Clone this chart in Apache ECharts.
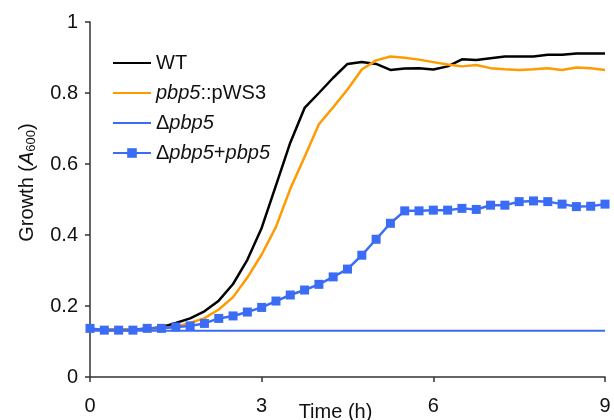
<!DOCTYPE html>
<html>
<head>
<meta charset="utf-8">
<script src="https://cdn.jsdelivr.net/npm/echarts@6/dist/echarts.min.js"></script>
<style>html,body{margin:0;padding:0;background:#fff}#c{width:614px;height:420px}</style>
</head>
<body>
<div id="c"></div>
<script>
const timeH = [0,0.25,0.5,0.75,1,1.25,1.5,1.75,2,2.25,2.5,2.75,3,3.25,3.5,3.75,4,4.25,4.5,4.75,5,5.25,5.5,5.75,6,6.25,6.5,6.75,7,7.25,7.5,7.75,8,8.25,8.5,8.75,9];
const wt = [0.135,0.133,0.133,0.134,0.136,0.140,0.152,0.165,0.185,0.215,0.262,0.330,0.420,0.540,0.660,0.758,0.800,0.843,0.882,0.887,0.882,0.865,0.869,0.870,0.866,0.875,0.895,0.893,0.898,0.903,0.903,0.903,0.908,0.908,0.911,0.911,0.911];
const pws3 = [0.135,0.133,0.133,0.133,0.133,0.137,0.142,0.152,0.166,0.190,0.225,0.280,0.345,0.423,0.530,0.620,0.712,0.760,0.810,0.866,0.892,0.903,0.899,0.894,0.887,0.880,0.875,0.879,0.870,0.867,0.865,0.867,0.870,0.865,0.872,0.870,0.865];
const dpbp5 = [0.130,0.130,0.130,0.130,0.130,0.130,0.130,0.130,0.130,0.130,0.130,0.130,0.130,0.130,0.130,0.130,0.130,0.130,0.130,0.130,0.130,0.130,0.130,0.130,0.130,0.130,0.130,0.130,0.130,0.130,0.130,0.130,0.130,0.130,0.130,0.130,0.130];
const comp = [0.137,0.132,0.132,0.132,0.137,0.137,0.141,0.144,0.151,0.165,0.172,0.183,0.196,0.214,0.231,0.245,0.261,0.282,0.304,0.343,0.388,0.433,0.468,0.468,0.470,0.470,0.475,0.472,0.484,0.484,0.494,0.496,0.494,0.487,0.480,0.481,0.487];
const seriesNames = ['WT','pbp5::pWS3','Δpbp5','Δpbp5+pbp5'];
const legendLabels = {
  'WT': 'WT',
  'pbp5::pWS3': '{i|pbp5}::pWS3',
  'Δpbp5': 'Δ{i|pbp5}',
  'Δpbp5+pbp5': 'Δ{i|pbp5}+{i|pbp5}'
};
const pair = arr => timeH.map((t,i)=>[t,arr[i]]);
const FONT = 'Liberation Sans, Arial, sans-serif';
const BLUE = '#3a6cf5';
const chart = echarts.init(document.getElementById('c'), null, {renderer:'canvas'});
chart.setOption({
  animation:false,
  backgroundColor:'#fff',
  grid:{left:90,right:9,top:22,bottom:43,containLabel:false,outerBoundsMode:'none'},
  legend:{
    orient:'vertical', left:107, top:48, itemWidth:38, itemHeight:12, itemGap:10,
    data:[
      {name:'WT', itemStyle:{opacity:0}},
      {name:'pbp5::pWS3', itemStyle:{opacity:0}},
      {name:'Δpbp5', itemStyle:{opacity:0}},
      {name:'Δpbp5+pbp5'}
    ],
    formatter: n => legendLabels[n],
    textStyle:{fontFamily:FONT,fontSize:20,color:'#111',
      rich:{i:{fontFamily:FONT,fontSize:20,fontStyle:'italic',color:'#111'}}}
  },
  xAxis:{
    type:'value', min:0, max:9, interval:3,
    name:'Time (h)', nameLocation:'middle', nameGap:25, nameMoveOverlap:false,
    nameTextStyle:{fontFamily:FONT,fontSize:20,color:'#111',padding:[0,24,0,0]},
    axisLine:{lineStyle:{color:'#333',width:1.5}},
    axisTick:{show:true,length:5,lineStyle:{color:'#333',width:1.5}},
    axisLabel:{fontFamily:FONT,fontSize:20,color:'#111',margin:19},
    splitLine:{show:false}
  },
  yAxis:{
    type:'value', min:0, max:1, interval:0.2,
    name:'{n|Growth (}{a|A}{s|600}{n|)}', nameLocation:'middle', nameGap:52, nameMoveOverlap:false,
    nameTextStyle:{fontFamily:FONT,fontSize:20,color:'#111',padding:[0,0,0,34],
      rich:{n:{fontFamily:FONT,fontSize:20,color:'#111'},
            a:{fontFamily:FONT,fontSize:20,fontStyle:'italic',color:'#111'},
            s:{fontFamily:FONT,fontSize:13,color:'#111',verticalAlign:'bottom',padding:[8,0,0,0]}}},
    axisLine:{show:true,lineStyle:{color:'#333',width:1.5}},
    axisTick:{show:true,length:5,lineStyle:{color:'#333',width:1.5}},
    axisLabel:{fontFamily:FONT,fontSize:20,color:'#111',margin:12},
    splitLine:{show:false}
  },
  series:[
    {name:'WT',type:'line',data:pair(wt),symbol:'none',color:'#000',lineStyle:{color:'#000',width:2.5}},
    {name:'pbp5::pWS3',type:'line',data:pair(pws3),symbol:'none',color:'#ff9a00',lineStyle:{color:'#ff9a00',width:2.5}},
    {name:'Δpbp5',type:'line',data:pair(dpbp5),symbol:'none',color:BLUE,lineStyle:{color:BLUE,width:2}},
    {name:'Δpbp5+pbp5',type:'line',data:pair(comp),symbol:'rect',symbolSize:9,color:BLUE,lineStyle:{color:BLUE,width:2.5},itemStyle:{color:BLUE}}
  ]
});
</script>
</body>
</html>
